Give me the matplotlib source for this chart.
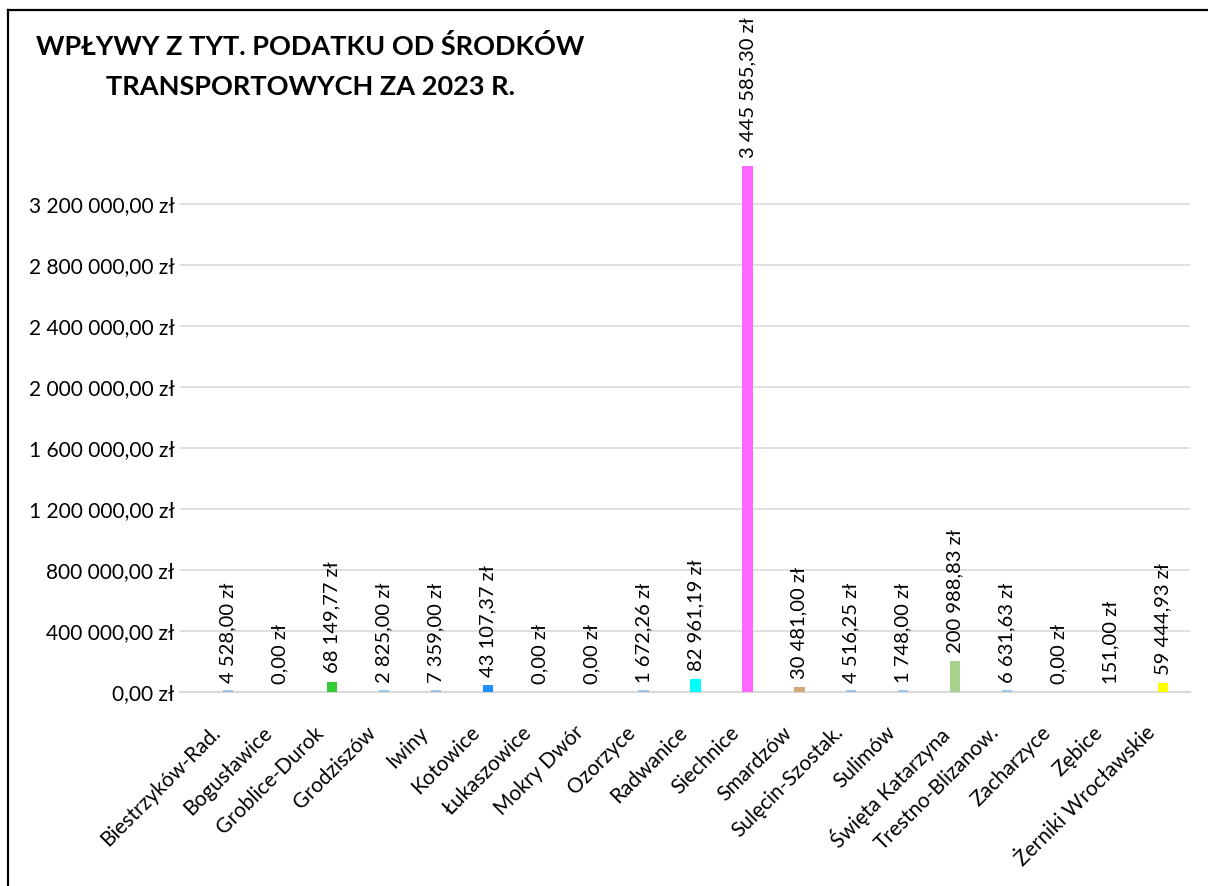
import matplotlib
matplotlib.use("Agg")
import matplotlib.pyplot as plt
from matplotlib.lines import Line2D

plt.rcParams['font.family'] = ['Lato', 'DejaVu Sans']

categories = ["Biestrzyków-Rad.", "Bogusławice", "Groblice-Durok", "Grodziszów", "Iwiny",
              "Kotowice", "Łukaszowice", "Mokry Dwór", "Ozorzyce", "Radwanice",
              "Siechnice", "Smardzów", "Sulęcin-Szostak.", "Sulimów", "Święta Katarzyna",
              "Trestno-Blizanow.", "Zacharzyce", "Zębice", "Żerniki Wrocławskie"]
values = [4528.00, 0.00, 68149.77, 2825.00, 7359.00,
          43107.37, 0.00, 0.00, 1672.26, 82961.19,
          3445585.30, 30481.00, 4516.25, 1748.00, 200988.83,
          6631.63, 0.00, 151.00, 59444.93]
colors = ["#9DC3E6", "#9DC3E6", "#33CC33", "#9DC3E6", "#9DC3E6",
          "#1E90FF", "#9DC3E6", "#9DC3E6", "#9DC3E6", "#00FFFF",
          "#FF66FF", "#D2A679", "#9DC3E6", "#9DC3E6", "#A9D18E",
          "#9DC3E6", "#9DC3E6", "#9DC3E6", "#FFFF00"]
yticks = [0, 400000, 800000, 1200000, 1600000, 2000000, 2400000, 2800000, 3200000]


def fmt(v):
    s = f"{v:,.2f}".replace(",", " ").replace(".", ",")
    return s + " zł"


fig = plt.figure(figsize=(12.08, 8.86), dpi=100)
ax = fig.add_axes([0.149, 0.219, 0.836, 0.594])

x = list(range(len(categories)))
min_h = 15000
draw_vals = [max(v, min_h) if v > 1000 else v for v in values]
ax.bar(x, draw_vals, width=0.2, color=colors, zorder=3)

for xi, v in zip(x, values):
    ax.annotate(fmt(v), (xi, v), xytext=(0, 6), textcoords="offset points",
                rotation=90, ha="center", va="bottom", fontsize=14.5, color="#000000",
                annotation_clip=False)

ax.set_xlim(-0.925, 18.52)
ax.set_ylim(0, 3450000)
ax.set_yticks(yticks)
ax.set_yticklabels([fmt(t) for t in yticks], fontsize=15)
ax.set_xticks(x)
ax.set_xticklabels([])
for xi, cat in zip(x, categories):
    ax.annotate(cat, (xi, 0), xytext=(-13, -22), textcoords="offset points",
                rotation=45, ha="right", va="top", rotation_mode="anchor",
                fontsize=15, color="#000000", annotation_clip=False)
ax.tick_params(axis="x", length=0)
ax.tick_params(axis="y", length=0, pad=4)
ax.yaxis.grid(True, color="#D9D9D9", linewidth=1.2, zorder=0)
for sp in ["top", "right", "left"]:
    ax.spines[sp].set_visible(False)
ax.spines["bottom"].set_color("#D9D9D9")
ax.spines["bottom"].set_linewidth(1.5)

fig.text(0.257, 0.962, "WPŁYWY Z TYT. PODATKU OD ŚRODKÓW\nTRANSPORTOWYCH ZA 2023 R.",
         ha="center", va="top", fontsize=19.5, fontweight="bold", linespacing=1.8)

fig.add_artist(Line2D([0.007, 0.007], [0.0, 0.989], transform=fig.transFigure,
                      color="black", linewidth=1.6))
fig.add_artist(Line2D([0.007, 1.0], [0.989, 0.989], transform=fig.transFigure,
                      color="black", linewidth=1.6))

fig.savefig("out.png", dpi=100)
